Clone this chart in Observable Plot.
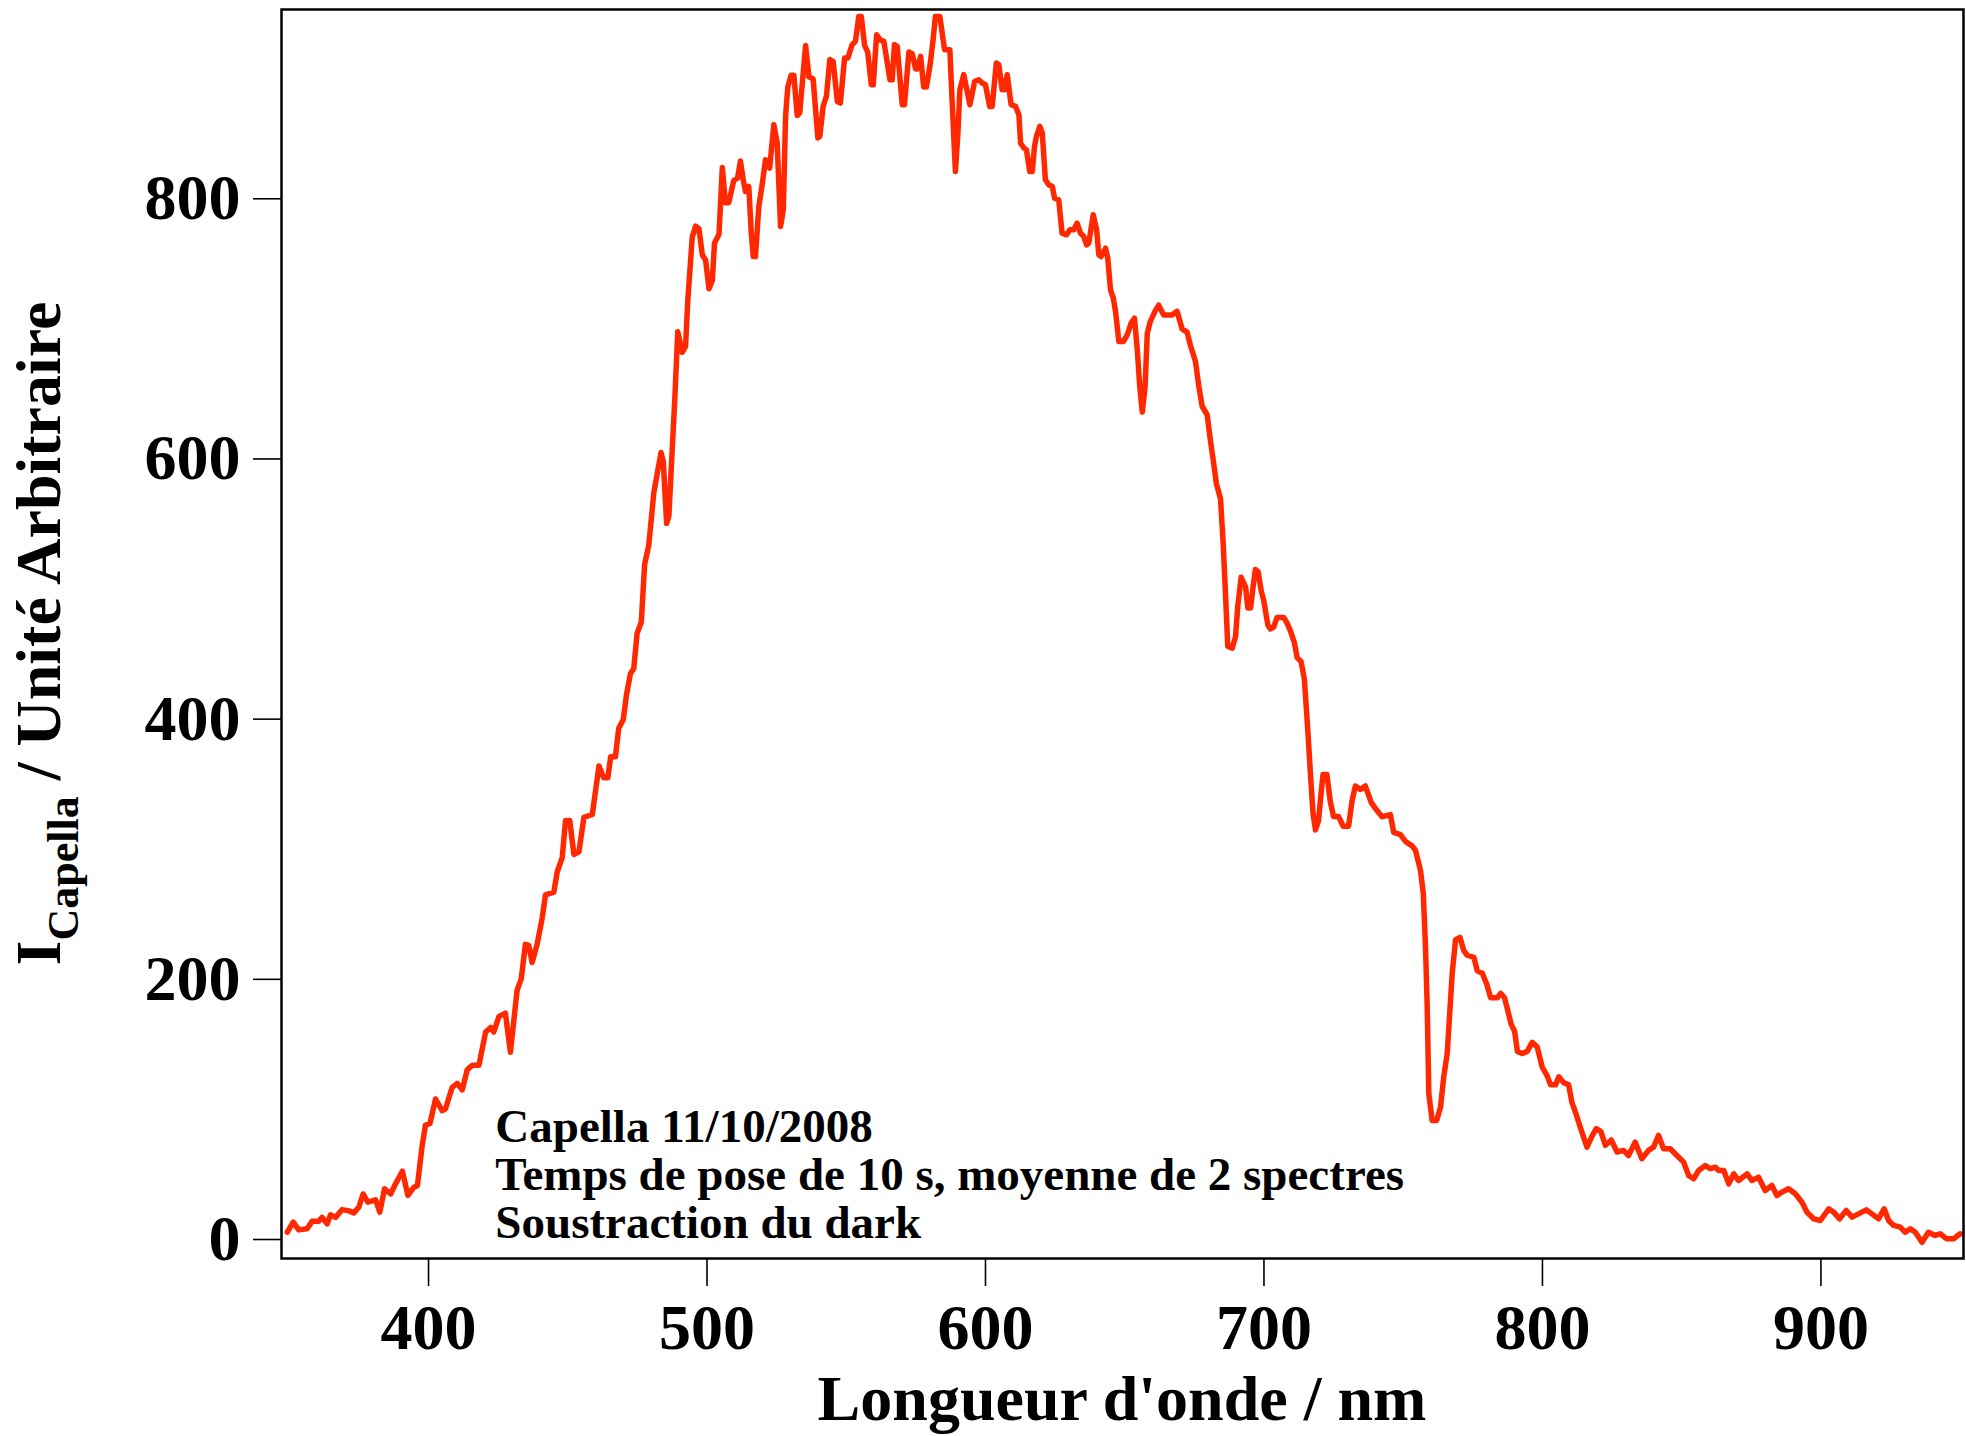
<!DOCTYPE html>
<html><head><meta charset="utf-8">
<script src="https://cdn.jsdelivr.net/npm/d3@7"></script>
<script src="https://cdn.jsdelivr.net/npm/@observablehq/plot@0.6"></script>
<style>body{margin:0;background:#fff} #chart{width:1966px;height:1436px}</style>
</head><body><div id="chart"></div>
<script>
const wavelength = [
349.3,351.4,353.4,356.4,358.2,360.6,361.8,363.6,364.8,366.6,369.0,371.4,373.2,375.0,376.5,378.2,381.0,382.5,384.2,386.4,
388.2,390.6,392.6,394.7,396.0,397.7,398.9,400.5,402.5,404.9,406.1,408.5,410.3,412.1,413.9,415.7,418.1,420.5,422.3,423.4,
425.3,427.6,429.4,431.8,433.3,434.8,436.0,437.2,439.0,440.8,442.0,445.0,446.2,448.0,449.2,450.7,452.2,454.0,455.8,458.8,
461.2,462.9,464.4,465.4,467.1,468.3,469.9,471.1,472.5,473.7,474.9,476.4,477.6,479.1,480.9,482.1,483.5,484.3,485.5,486.3,
487.5,488.4,489.5,491.1,492.3,493.1,494.7,495.9,497.1,498.3,499.5,500.7,501.9,502.7,504.3,505.5,506.6,507.8,509.6,511.0,
512.0,513.0,513.8,515.0,515.9,516.6,517.4,518.6,519.8,521.0,522.5,524.0,525.2,526.4,527.4,528.2,529.0,530.2,531.2,532.4,
533.3,535.4,536.6,538.1,539.8,540.5,541.7,542.9,544.1,545.3,546.8,547.9,549.4,550.6,552.1,553.3,554.5,555.4,556.6,557.7,
559.0,559.7,560.9,562.1,563.5,565.7,566.5,567.3,568.3,570.1,570.9,572.5,573.7,574.9,575.5,576.7,577.8,578.8,580.2,581.2,
582.0,583.6,585.3,587.2,588.0,589.2,590.1,590.8,592.2,594.4,596.1,597.6,598.8,600.0,601.5,602.4,603.9,604.8,606.0,606.8,
607.8,609.2,610.8,612.0,612.6,613.8,614.7,615.9,616.8,617.6,618.3,619.5,620.4,621.5,622.7,624.0,624.8,626.3,627.5,629.1,
630.3,631.7,632.9,634.1,635.3,636.3,637.1,638.7,639.9,640.7,641.5,643.1,643.9,644.9,645.9,646.7,647.9,649.5,650.9,652.3,
653.5,654.5,655.4,656.3,657.3,658.1,659.2,661.0,662.2,664.0,667.0,668.8,670.6,672.4,673.6,675.4,676.6,677.8,679.6,680.8,
682.0,682.9,684.4,685.3,686.2,687.0,688.6,689.8,690.6,691.8,693.4,694.2,695.2,696.1,696.9,697.9,699.0,699.9,701.4,702.3,
703.5,704.7,707.1,708.3,709.5,710.9,711.9,713.3,714.5,715.7,716.7,717.6,718.5,719.6,720.5,721.2,722.6,723.8,725.0,726.8,
728.4,730.4,731.6,732.8,734.6,736.4,738.5,740.3,742.4,745.4,746.6,749.0,750.8,753.2,754.4,756.2,757.2,758.0,758.6,759.2,
760.4,762.0,763.4,764.6,765.8,766.8,767.6,768.8,770.4,771.8,773.0,775.4,776.6,778.4,780.0,781.4,783.8,785.0,786.4,787.6,
788.8,790.0,791.0,792.7,794.5,796.3,798.1,799.9,801.7,802.9,804.7,805.9,807.6,809.4,810.6,811.8,813.6,816.0,817.8,819.3,
821.0,822.6,824.7,826.8,829.1,830.9,833.3,835.7,838.1,839.9,841.7,843.5,845.9,848.3,850.7,852.5,854.3,856.1,858.5,860.3,
862.1,863.3,865.1,866.9,868.7,870.4,873.5,875.2,877.6,880.0,882.4,884.2,886.0,888.4,890.8,893.2,895.0,897.4,899.8,902.8,
904.6,906.7,909.1,911.2,913.5,916.3,918.3,920.7,922.7,924.3,926.1,928.5,930.3,932.1,933.9,936.3,938.6,941.0,942.8,945.2,
947.6,950.0
];
const intensity = [
5.6,13.3,7.4,8.2,14,14,17,12,19,17,23,22,20.5,25,35,28.7,30.5,21,39,35,
43,52.5,34,40,41.5,72,88,89,108,99,100.5,117,120,115,130.5,134,134,159.5,163,159.5,
171.5,174,144,191.5,200.5,227,226,213,227,247,265,267,282.5,293.5,322,322,296,298,324.5,326.7,
364,355,355,371,371,393,399.5,419,435,439,466,474.6,519,534,574,588.5,605,598,550.5,556,
607,644.6,697.7,682,686.5,722,770.5,779,777,757,752.8,730.8,737,766,772.7,824,797,797,814,816,
829,814.6,805.6,809.5,773.6,755.6,755.6,794,810.8,830,823.6,857,843,778.7,791.5,863,886,895,895,864,
866,917.9,893.6,892.3,846.7,848,871,879,907,905.6,874.8,873.6,908.2,908.2,918.5,921,940.2,940.2,917.9,912.8,
887.7,887.7,926,922.3,921,891.5,891.5,918.5,917.2,872.3,872.3,912.8,911.5,899.8,899.8,909.5,885.9,885.9,904.4,922.3,
940.2,940.2,914.6,914.6,876,821,850.5,883.8,895.4,872.3,890.2,891.5,889,887.7,871,871,904.4,903,883.8,883.8,
895.4,872.3,871,864.6,842.8,839,837.7,821,821,840.2,848,855.6,850.5,814.6,810.8,809.5,800.5,799.2,773.6,772.3,
776.2,776.2,781.3,773.6,771,764.6,765.9,787.7,776.2,756.9,755.6,762,754.4,730,723.6,713.3,690.2,690.2,695.4,704.4,
708.2,684.2,655.6,636,655,696.5,705.8,714,718.2,710.7,710.7,713.5,700,697.5,687.2,675,656,640.5,634,613.6,
595.9,581.2,569.4,537,495.8,456,454.6,463.5,487,509,501.7,485.5,485.5,501.7,515,513.4,498.8,491.4,472.3,469.3,
470.8,478.2,478.2,473.8,467.9,459,447.3,444.3,431.1,392.8,357.5,328,314.8,322.1,342.7,357.5,357.5,336.8,325.1,325.1,
317.7,317.7,336.8,348.6,346,348.6,336,330.5,325,326.6,312.9,311.2,306,302.6,299.2,283.7,266.5,225.3,180.7,112,
91.4,91.4,101.7,125.8,142.9,177.2,204.7,230.5,232.2,221.9,218.5,216.8,206.5,204.7,196.2,185.8,185.8,189.2,185.8,175.5,
165.2,160.1,144.6,142.9,144.6,151.5,148.1,132.6,125.8,118.9,118.9,125.1,120.6,118.9,105.2,98.2,86.2,71,79.4,85.2,
83,72.4,76.5,67.3,68.5,64.6,74.8,62.1,68.5,71,80,69.8,69.8,64.6,59.5,49.2,46.7,53.1,56.9,54.4,
55.6,53.1,53.1,42.8,50.5,45.4,50.5,45.4,47.9,37.7,41.5,33.8,36.4,39,35.2,28.7,21,15.9,14.6,23.6,
21,15.9,22.3,17.2,19.7,22.8,19.7,15.9,23.6,14.6,10.8,9.5,5.6,8.2,5.6,-2.1,5.6,3.1,4.4,0.5,
0.5,4.4
];
const xTicks = [400, 500, 600, 700, 800, 900];
const yTicks = [0, 200, 400, 600, 800];
const xTitle = "Longueur d'onde / nm";
const yTitleMain = "I";
const yTitleSub = "Capella";
const yTitleRest = " / Unité Arbitraire";
const annotationLines = ["Capella 11/10/2008", "Temps de pose de 10 s, moyenne de 2 spectres", "Soustraction du dark"];

const data = wavelength.map((w, i) => ({w, v: intensity[i]}));
const FONT = "'Liberation Serif', 'Times New Roman', serif";

const W = 1966, H = 1436, ML = 281, MR = 3, MT = 9, MB = 178;
const plot = Plot.plot({
  width: W, height: H,
  marginLeft: ML, marginRight: MR, marginTop: MT, marginBottom: MB,
  style: {fontFamily: FONT, fontWeight: "bold", background: "#fff", color: "#000", overflow: "visible"},
  x: {domain: [347.2, 951.2]},
  y: {domain: [-14.6, 945.5]},
  marks: [
    Plot.line(data, {x: "w", y: "v", stroke: "#ff2800", strokeWidth: 5.5, strokeLinejoin: "round"}),
    Plot.axisX({ticks: xTicks, tickSize: 28, tickPadding: 17, fontSize: 64, fontWeight: "bold", strokeWidth: 1.6, label: null, tickFormat: d => String(d)}),
    Plot.axisY({ticks: yTicks, tickSize: 28, tickPadding: 13, fontSize: 64, fontWeight: "bold", strokeWidth: 1.6, label: null, tickFormat: d => String(d)}),
    Plot.text([{t: annotationLines.join("\n")}], {x: () => 424, y: () => 101, text: "t", textAnchor: "start", lineAnchor: "top", lineHeight: 1.02, fontSize: 47, fontWeight: "bold", fill: "#000"}),
    Plot.frame({stroke: "#000", strokeWidth: 2.5})
  ]
});

const svg = d3.select(plot);
const cx = (ML + (W - MR)) / 2;
const cy = (MT + (H - MB)) / 2;
svg.append("text")
  .attr("x", cx).attr("y", 1420)
  .attr("text-anchor", "middle")
  .attr("font-family", FONT).attr("font-weight", "bold").attr("font-size", 64)
  .attr("fill", "#000")
  .text(xTitle);
const yt = svg.append("text")
  .attr("transform", `translate(60,${cy}) rotate(-90)`)
  .attr("text-anchor", "middle")
  .attr("font-family", FONT).attr("font-weight", "bold").attr("font-size", 64)
  .attr("fill", "#000");
yt.append("tspan").text(yTitleMain);
yt.append("tspan").attr("font-size", 44).attr("dy", 18).text(yTitleSub);
yt.append("tspan").attr("dy", -18).text(yTitleRest);

document.getElementById("chart").appendChild(plot);
</script>
</body></html>
